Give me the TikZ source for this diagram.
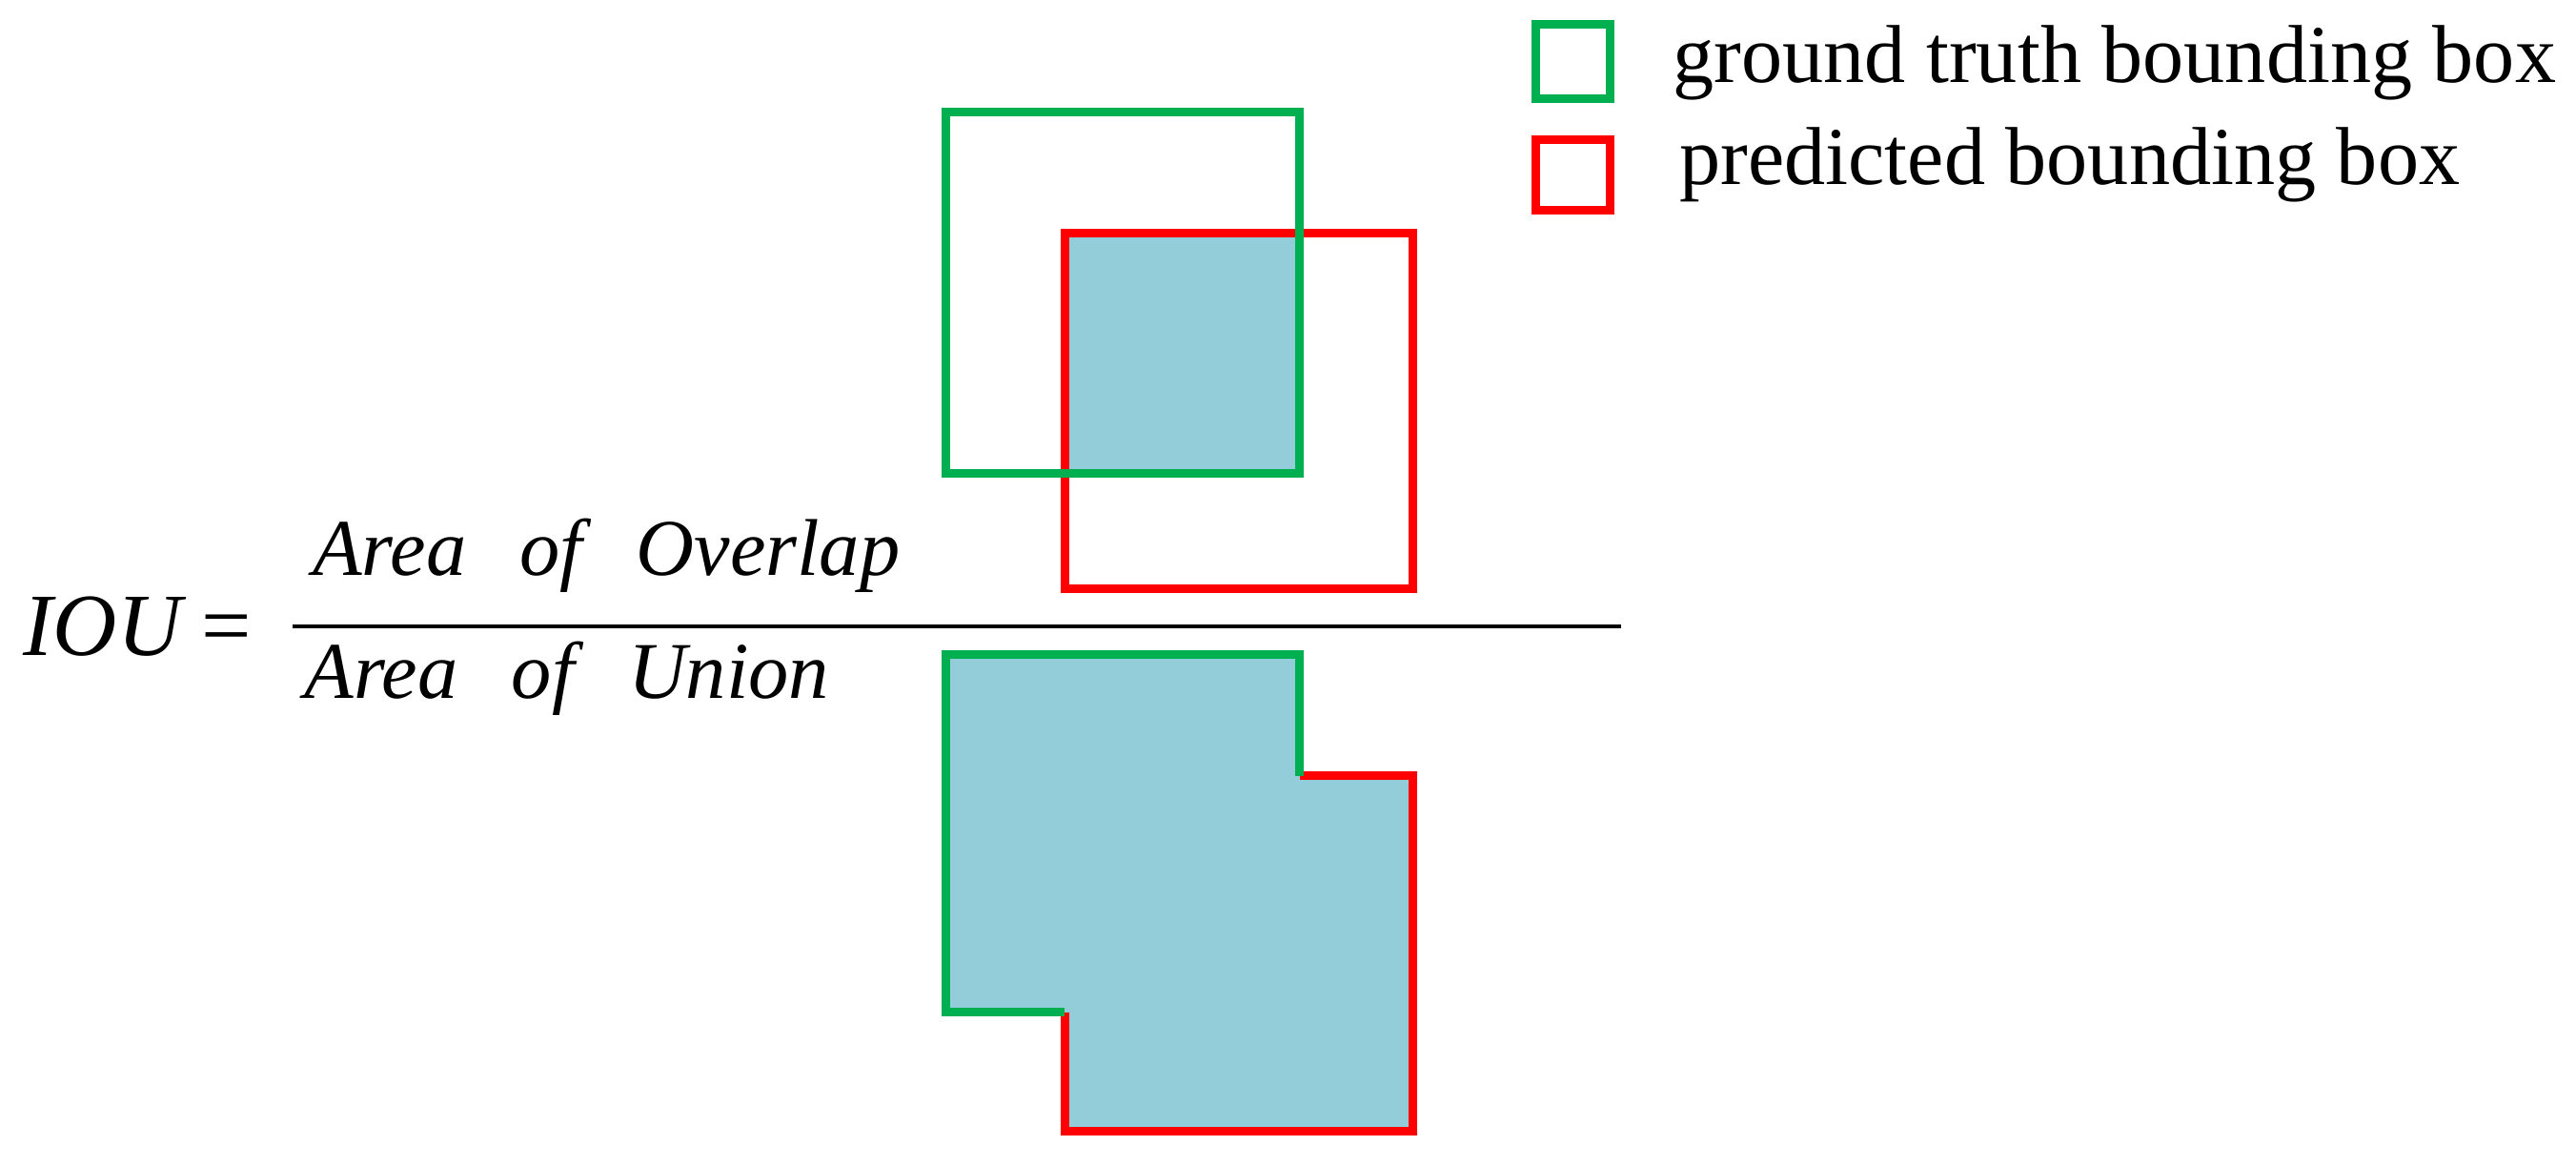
\documentclass[tikz,border=0pt]{standalone}
\usepackage{fontspec}
\setmainfont{Liberation Serif}
\definecolor{gbox}{HTML}{00B050}
\definecolor{rbox}{HTML}{FF0000}
\definecolor{ovl}{HTML}{94CDDA}
\begin{document}
\begin{tikzpicture}[x=0.5pt,y=-0.5pt,
  gline/.style={draw=gbox,line width=2.6pt},
  rline/.style={draw=rbox,line width=2.6pt},
  lab/.style={anchor=base west,inner sep=0pt,font=\fontsize{25}{28}\selectfont},
  frm/.style={inner sep=0pt,font=\fontsize{24.5}{28}\selectfont\itshape}]
\useasboundingbox (0,0) rectangle (1568,709);
% top: overlap
\fill[ovl] (648,142) rectangle (791,288);
\draw[rline] (648,142) rectangle (860,358);
\draw[gline] (576,68) rectangle (791,288);
% bottom: union
\fill[ovl] (576,398) -- (791,398) -- (791,472) -- (860,472) -- (860,688) -- (648,688) -- (648,616) -- (576,616) -- cycle;
\draw[rline] (791,472) -- (860,472) -- (860,688) -- (648,688) -- (648,616);
\draw[gline] (648,616) -- (576,616) -- (576,398) -- (791,398) -- (791,472);
% fraction
\node[frm,anchor=west,font=\fontsize{27}{30}\selectfont\itshape] (iou) at (14,381) {IOU\,=};
\coordinate (fl) at (178,381);
\coordinate (fr) at (987,381);
\draw[line width=1.2pt] (fl) -- (fr);
\node[frm,anchor=base west] (num) at (190,350) {Area\ \ \,of\ \ \,Overlap};
\node[frm,anchor=base west] (den) at (185,425) {Area\ \ \,of\ \ \,Union};
% legend
\draw[gline] (935,15) rectangle (980,60);
\draw[rline] (935,85) rectangle (980,128);
\node[lab] (lg) at (1018,50) {ground truth bounding box};
\node[lab] (lr) at (1022,112) {predicted bounding box};
\end{tikzpicture}
\end{document}
